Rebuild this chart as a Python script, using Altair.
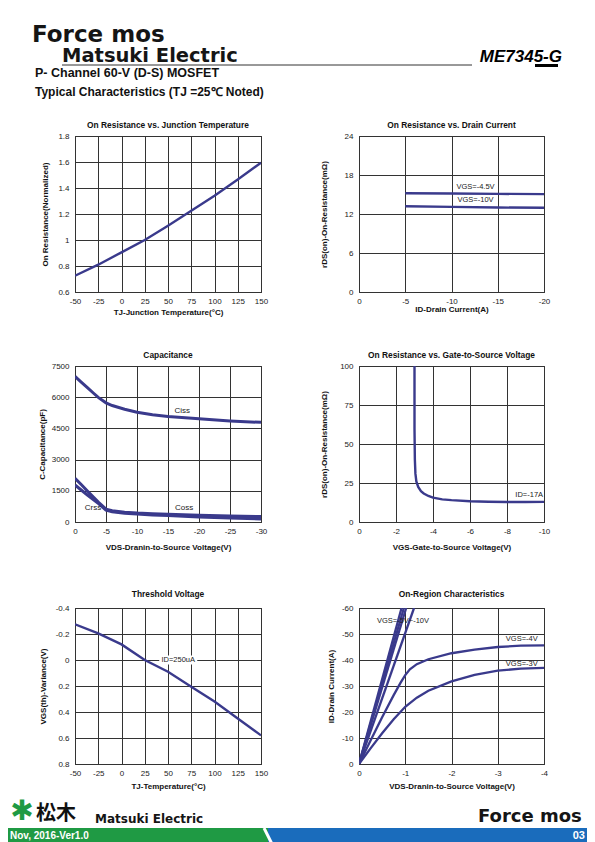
import altair as alt
import pandas as pd

FONT = "Liberation Sans"
LOGO = "DejaVu Sans"
CJK = "Noto Sans CJK JP"
LINE = "#3a3a8c"
GRID = "#333333"
GREEN = "#1f9a44"
BLUE = "#1a6cbc"

# ---------------- data ----------------
# Panel 1: On Resistance vs. Junction Temperature
p1_temp = [-50, -25, 0, 25, 50, 75, 100, 125, 150]
p1_ron = [0.725, 0.81, 0.905, 1.0, 1.11, 1.225, 1.34, 1.465, 1.595]
p1_xticks = [-50, -25, 0, 25, 50, 75, 100, 125, 150]
p1_yticks = [0.6, 0.8, 1, 1.2, 1.4, 1.6, 1.8]

# Panel 2: On Resistance vs. Drain Current
p2_id = [-5, -10, -15, -20]
p2_r45 = [15.2, 15.15, 15.1, 15.05]
p2_r10 = [13.2, 13.1, 13.0, 12.95]
p2_xticks = [0, -5, -10, -15, -20]
p2_yticks = [0, 6, 12, 18, 24]
p2_labels = ["VGS=-4.5V", "VGS=-10V"]
p2_label_x = [-12.6, -12.6]
p2_label_y = [16.1, 14.15]

# Panel 3: Capacitance
p3_vds = [0, -1, -2, -3, -3.8, -5, -6, -8, -10, -12.5, -15, -20, -25, -30]
p3_ciss = [7000, 6730, 6460, 6190, 5980, 5730, 5600, 5420, 5280, 5160, 5070, 4960, 4860, 4790]
p3_coss = [2100, 1800, 1490, 1190, 950, 620, 540, 470, 430, 400, 370, 320, 290, 260]
p3_crss = [1780, 1540, 1300, 1070, 880, 570, 490, 420, 380, 340, 310, 240, 190, 150]
p3_xticks = [0, -5, -10, -15, -20, -25, -30]
p3_yticks = [0, 1500, 3000, 4500, 6000, 7500]
p3_labels = ["Ciss", "Coss", "Crss"]
p3_label_x = [-17.3, -17.6, -2.9]
p3_label_y = [5360, 660, 660]

# Panel 4: On Resistance vs. Gate-to-Source Voltage
p4_vgs = [-3.0, -3.0, -3.02, -3.05, -3.1, -3.2, -3.35, -3.5, -3.75, -4.0, -4.5, -5, -6, -7, -8, -9, -10]
p4_rds = [100, 60, 40, 31, 26, 22.5, 19.8, 18.3, 16.7, 15.6, 14.5, 14.0, 13.3, 13.0, 12.8, 12.8, 12.9]
p4_xticks = [0, -2, -4, -6, -8, -10]
p4_yticks = [0, 25, 50, 75, 100]
p4_labels = ["ID=-17A"]
p4_label_x = [-9.2]
p4_label_y = [17.1]

# Panel 5: Threshold Voltage
p5_temp = [-50, -25, 0, 25, 50, 75, 100, 125, 150]
p5_vth = [-0.275, -0.205, -0.12, 0.0, 0.09, 0.205, 0.32, 0.45, 0.58]
p5_xticks = [-50, -25, 0, 25, 50, 75, 100, 125, 150]
p5_yticks = [-0.4, -0.2, 0, 0.2, 0.4, 0.6, 0.8]
p5_labels = ["ID=250uA"]
p5_label_x = [61]
p5_label_y = [0]

# Panel 6: On-Region Characteristics
p6_fast_end_x = [-0.92, -0.97, -1.02, -1.19]
p6_fast_end_y = [-60, -60, -60, -60]
p6_vds4 = [0, -0.25, -0.5, -0.75, -0.9, -1.0, -1.1, -1.25, -1.5, -2, -2.5, -3, -3.5, -4]
p6_id4 = [0, -9, -18, -26.5, -31.3, -34.2, -36.4, -38.4, -40.3, -42.6, -44, -45, -45.5, -45.6]
p6_vds3 = [0, -0.25, -0.5, -0.75, -1, -1.25, -1.5, -2, -2.5, -3, -3.5, -4]
p6_id3 = [0, -6, -11.8, -17.2, -22, -25.5, -28.2, -31.8, -34.3, -35.9, -36.7, -37]
p6_xticks = [0, -1, -2, -3, -4]
p6_yticks = [0, -10, -20, -30, -40, -50, -60]
p6_labels = ["VGS=-5V~-10V", "VGS=-4V", "VGS=-3V"]
p6_label_x = [-0.95, -3.52, -3.52]
p6_label_y = [-55, -48.2, -38.6]

ONE = pd.DataFrame({"k": [0]})
W_L, W_R, H = 186, 185, 156
VIEW = alt.ViewBackground(stroke="#111111", strokeWidth=1)
NOVIEW = alt.ViewBackground(strokeOpacity=0)


def enc(xdom, xrev, xticks, xtitle, xty, ydom, yrev, yticks, ytitle, ytx, w):
    ex = alt.X("x:Q", scale=alt.Scale(domain=xdom, nice=False, zero=False, reverse=xrev),
               axis=alt.Axis(title=xtitle, values=xticks, grid=True, ticks=False, domain=False,
                             labelExpr="'' + datum.value", labelFlush=False, labelOverlap=False,
                             labelPadding=5, titleY=xty, titleX=w / 2, titleBaseline="middle"))
    ey = alt.Y("y:Q", scale=alt.Scale(domain=ydom, nice=False, zero=False, reverse=yrev),
               axis=alt.Axis(title=ytitle, values=yticks, grid=True, ticks=False, domain=False,
                             labelExpr="'' + datum.value", labelFlush=False, labelOverlap=False,
                             labelPadding=6, titleX=ytx, titleY=H / 2, titleBaseline="middle"))
    return ex, ey


def ttl(text, off):
    return alt.TitleParams(text=text, font=FONT, fontSize=8.4, fontWeight="bold", color="#111111",
                           offset=off, anchor="middle", frame="group")


def lines(xs, ys, ex, ey, width=2.3):
    df = pd.DataFrame({"x": xs, "y": ys, "i": list(range(len(xs)))})
    return alt.Chart(df).mark_line(color=LINE, strokeWidth=width, clip=True).encode(
        x=ex, y=ey, order="i:Q")


def labels(txts, xs, ys, ex, ey, size=7.5):
    df = pd.DataFrame({"x": xs, "y": ys, "text": txts})
    return alt.Chart(df).mark_text(font=FONT, fontSize=size, color="#222222").encode(
        x=ex, y=ey, text="text:N")


def label_bg(xs, ys, ex, ey, w, h):
    df = pd.DataFrame({"x": xs, "y": ys})
    return alt.Chart(df).mark_rect(color="white", width=w, height=h).encode(x=ex, y=ey)


# ---------------- panels ----------------
ex, ey = enc([-50, 150], False, p1_xticks, "TJ-Junction Temperature(°C)", 20,
             [0.6, 1.8], False, p1_yticks, "On Resistance(Normalized)", -30, W_L)
p1 = alt.layer(lines(p1_temp, p1_ron, ex, ey, 2.4)).properties(
    width=W_L, height=H, title=ttl("On Resistance vs. Junction Temperature", 3), view=VIEW)

ex, ey = enc([-20, 0], True, p2_xticks, "ID-Drain Current(A)", 17.5,
             [0, 24], False, p2_yticks, "rDS(on)-On-Resistance(mΩ)", -34.5, W_R)
p2 = alt.layer(lines(p2_id, p2_r45, ex, ey, 2.4), lines(p2_id, p2_r10, ex, ey, 2.4),
               labels(p2_labels, p2_label_x, p2_label_y, ex, ey)).properties(
    width=W_R, height=H, title=ttl("On Resistance vs. Drain Current", 3), view=VIEW)

ex, ey = enc([-30, 0], True, p3_xticks, "VDS-Dranin-to-Source Voltage(V)", 25,
             [0, 7500], False, p3_yticks, "C-Capacitance(pF)", -32.3, W_L)
p3 = alt.layer(lines(p3_vds, p3_ciss, ex, ey, 3.0), lines(p3_vds, p3_coss, ex, ey, 3.0),
               lines(p3_vds, p3_crss, ex, ey, 3.0),
               labels(p3_labels, p3_label_x, p3_label_y, ex, ey, 8)).properties(
    width=W_L, height=H, title=ttl("Capacitance", 3), view=VIEW)

ex, ey = enc([-10, 0], True, p4_xticks, "VGS-Gate-to-Source Voltage(V)", 25,
             [0, 100], False, p4_yticks, "rDS(on)-On-Resistance(mΩ)", -34.5, W_R)
p4 = alt.layer(lines(p4_vgs, p4_rds, ex, ey, 2.4),
               labels(p4_labels, p4_label_x, p4_label_y, ex, ey)).properties(
    width=W_R, height=H, title=ttl("On Resistance vs. Gate-to-Source Voltage", 3), view=VIEW)

ex, ey = enc([-50, 150], False, p5_xticks, "TJ-Temperature(°C)", 22,
             [-0.4, 0.8], True, p5_yticks, "VGS(th)-Variance(V)", -31.7, W_L)
p5 = alt.layer(lines(p5_temp, p5_vth, ex, ey, 2.4),
               label_bg(p5_label_x, p5_label_y, ex, ey, 38, 9),
               labels(p5_labels, p5_label_x, p5_label_y, ex, ey)).properties(
    width=W_L, height=H, title=ttl("Threshold Voltage", 6), view=VIEW)

ex, ey = enc([-4, 0], True, p6_xticks, "VDS-Dranin-to-Source Voltage(V)", 22,
             [-60, 0], True, p6_yticks, "ID-Drain Current(A)", -28, W_R)
p6_layers = [lines([0, xe], [0, ye], ex, ey, 2.3) for xe, ye in zip(p6_fast_end_x, p6_fast_end_y)]
p6_layers += [lines(p6_vds4, p6_id4, ex, ey, 2.3), lines(p6_vds3, p6_id3, ex, ey, 2.3),
              labels(p6_labels, p6_label_x, p6_label_y, ex, ey)]
p6 = alt.layer(*p6_layers).properties(
    width=W_R, height=H, title=ttl("On-Region Characteristics", 6), view=VIEW)


# ---------------- header / footer decorations ----------------
def t(s, x, y, size, font=FONT, weight="bold", color="#111111", align="left", style="normal"):
    return alt.Chart(ONE).mark_text(text=s, font=font, fontSize=size, fontWeight=weight, color=color,
                                    align=align, baseline="middle", fontStyle=style).encode(
        x=alt.value(x), y=alt.value(y))


def hrule(x1, x2, y, w, color):
    return alt.Chart(ONE).mark_rule(color=color, strokeWidth=w).encode(
        x=alt.value(x1), x2=alt.value(x2), y=alt.value(y))


def box(x1, x2, y1, y2, color):
    return alt.Chart(ONE).mark_rect(color=color).encode(
        x=alt.value(x1), x2=alt.value(x2), y=alt.value(y1), y2=alt.value(y2))


header = alt.layer(
    t("Force mos", -43, 27, 23, font=LOGO, color="#151515"),
    t("Matsuki Electric", -13, 48, 19.5, font=LOGO, color="#151515"),
    hrule(-13, 397, 57, 1, "#333333"),
    hrule(460, 483, 57.5, 3, "#000000"),
    t("ME7345-G", 487, 49, 17, style="italic", color="#000000", align="right"),
    t("P- Channel 60-V (D-S) MOSFET", -40, 65, 12.5),
    t("Typical Characteristics (TJ =25℃ Noted)", -40, 84, 12),
).properties(width=W_L, height=112, view=NOVIEW)

footer = alt.layer(
    box(-67, 193, 37, 53, GREEN),
    box(193, 512, 37, 53, BLUE),
    alt.Chart(ONE).mark_rule(color="white", strokeWidth=3).encode(
        x=alt.value(189), x2=alt.value(197), y=alt.value(37), y2=alt.value(53)),
    t("✱", -53, 21, 28, font=LOGO, color=GREEN, align="center"),
    t("松木", -39, 23, 20, font=CJK, color="#111111"),
    t("Matsuki Electric", 20, 28, 12, font=LOGO, color="#151515"),
    t("Force mos", 403, 26, 18, font=LOGO, color="#151515"),
    t("Nov, 2016-Ver1.0", -65, 45, 10, color="white"),
    t("03", 510, 45, 11, color="white", align="right"),
).properties(width=W_L, height=53, view=NOVIEW)


def spacer(h):
    return alt.Chart(ONE).mark_rule(opacity=0).encode(
        x=alt.value(0), y=alt.value(0), y2=alt.value(h)).properties(width=1, height=h, view=NOVIEW)


row1 = alt.hconcat(p1, p2, spacing=51)
row2 = alt.hconcat(p3, p4, spacing=52)
row3 = alt.hconcat(p5, p6, spacing=57)

chart = alt.vconcat(header, row1, spacer(33), row2, spacer(37), row3, footer, spacing=0).properties(
    padding=0, background="white"
).configure_axis(
    labelFont=FONT, labelFontSize=8, labelColor="#222222",
    titleFont=FONT, titleFontSize=8, titleFontWeight="bold", titleColor="#111111",
    gridColor=GRID, gridWidth=1, gridOpacity=1,
)

chart.save("out.html", embed_options={"renderer": "svg", "actions": False})
